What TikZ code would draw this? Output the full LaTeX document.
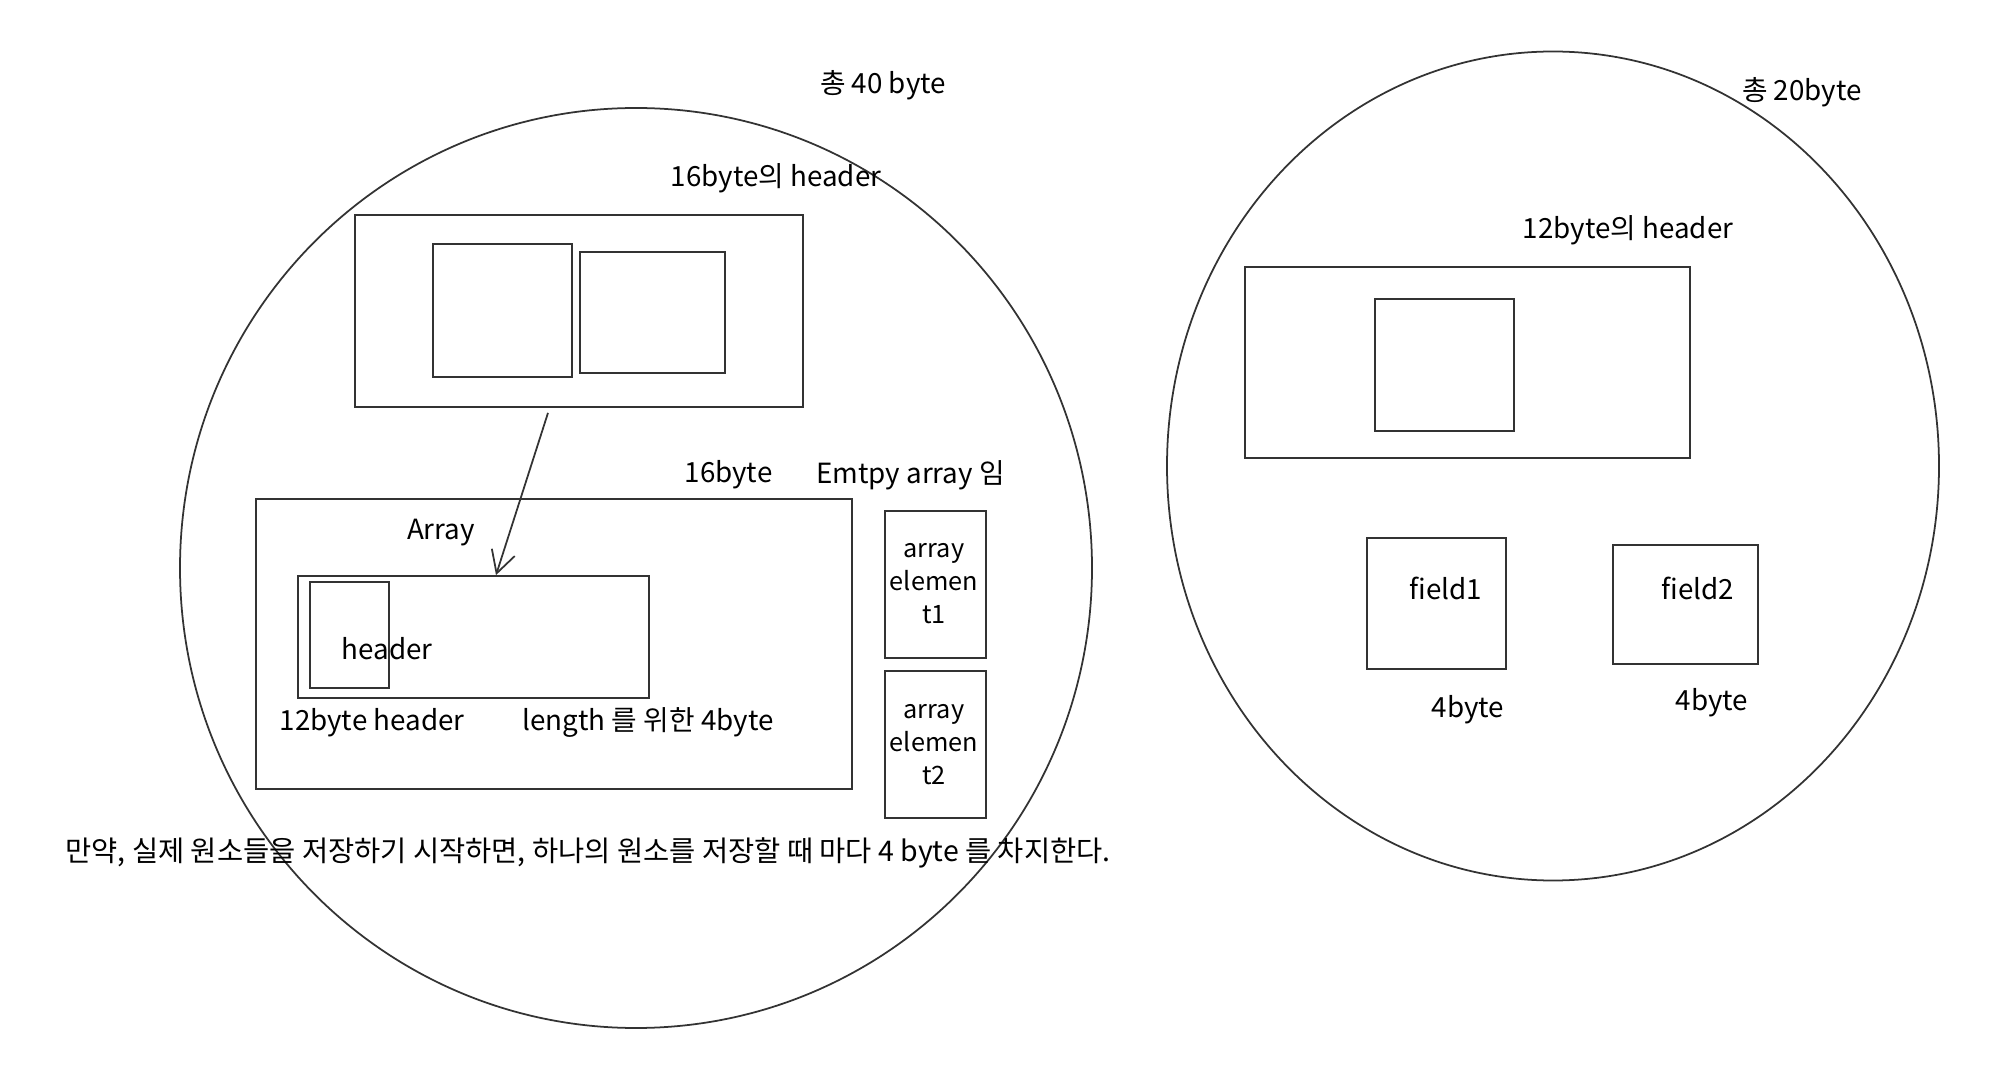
\documentclass[tikz,border=0pt]{standalone}
\usepackage{fontspec}
\setmainfont{Noto Sans CJK KR}
\usetikzlibrary{shapes.geometric, arrows.meta}
\tikzstyle{sketch} = [draw=black!80, line width=0.5pt]
\tikzstyle{object} = [ellipse, sketch, inner sep=0pt]
\tikzstyle{box} = [rectangle, sketch, inner sep=0pt]
\tikzstyle{label} = [inner sep=1pt, font=\fontsize{7.9}{9.4}\selectfont, align=center]
\tikzstyle{cell} = [label, font=\fontsize{7.2}{9.4}\selectfont]
\tikzstyle{note} = [inner sep=1pt, font=\fontsize{8.1}{9}\selectfont]
\tikzstyle{arrow} = [sketch, -{Straight Barb[length=2.2mm, width=2.4mm]}]

\begin{document}
\begin{tikzpicture}
    \useasboundingbox (0,0) rectangle (20,-10.86);

    % array object (left)
    \node (arrobj) [object, minimum width=9.12cm, minimum height=9.20cm] at (6.36,-5.68) {};
    \node (arrtotal) [label] at (8.83,-0.85) {총 40 byte};
    \node (arrhdrlbl) [label] at (7.76,-1.78) {16byte의 header};
    \node (arrhdr) [box, minimum width=4.48cm, minimum height=1.92cm] at (5.79,-3.11) {};
    \node (arrhdrA) [box, minimum width=1.39cm, minimum height=1.33cm] at (5.025,-3.105) {};
    \node (arrhdrB) [box, minimum width=1.45cm, minimum height=1.21cm] at (6.525,-3.125) {};

    \node (emptysize) [label] at (7.285,-4.75) {16byte};
    \node (emptylbl) [label] at (9.105,-4.75) {Emtpy array 임};
    \node (arrbody) [box, minimum width=5.96cm, minimum height=2.90cm] at (5.54,-6.44) {};
    \node (arrlbl) [label] at (4.41,-5.33) {Array};
    \node (arrinner) [box, minimum width=3.51cm, minimum height=1.22cm] at (4.735,-6.37) {};
    \node (arrsmall) [box, minimum width=0.79cm, minimum height=1.06cm] at (3.495,-6.35) {};
    \node (smalllbl) [label] at (3.87,-6.49) {header};
    \node (hdrsize) [label] at (3.72,-7.23) {12byte header};
    \node (lensize) [label] at (6.48,-7.23) {length 를 위한 4byte};

    \node (elem1) [box, minimum width=1.01cm, minimum height=1.47cm] at (9.355,-5.845) {};
    \node (elem1lbl) [cell] at (9.34,-5.84) {array\\elemen\\t1};
    \node (elem2) [box, minimum width=1.01cm, minimum height=1.47cm] at (9.355,-7.445) {};
    \node (elem2lbl) [cell] at (9.34,-7.45) {array\\elemen\\t2};

    \node (remark) [note] at (5.88,-8.53) {만약, 실제 원소들을 저장하기 시작하면, 하나의 원소를 저장할 때 마다 4 byte 를 차지한다.};

    \draw [arrow] ([xshift=-0.31cm, yshift=-0.05cm]arrhdr.south) -- ([xshift=0.225cm]arrinner.north);

    % plain object (right)
    \node (plainobj) [object, minimum width=7.72cm, minimum height=8.29cm] at (15.53,-4.66) {};
    \node (plaintotal) [label] at (18.02,-0.92) {총 20byte};
    \node (plainhdrlbl) [label] at (16.28,-2.30) {12byte의 header};
    \node (plainhdr) [box, minimum width=4.45cm, minimum height=1.91cm] at (14.675,-3.625) {};
    \node (plainhdrA) [box, minimum width=1.39cm, minimum height=1.32cm] at (14.445,-3.65) {};

    \node (field1) [box, minimum width=1.39cm, minimum height=1.31cm] at (14.365,-6.035) {};
    \node (field1lbl) [label] at (14.46,-5.88) {field1};
    \node (field1size) [label] at (14.68,-7.10) {4byte};
    \node (field2) [box, minimum width=1.45cm, minimum height=1.19cm] at (16.855,-6.045) {};
    \node (field2lbl) [label] at (16.98,-5.88) {field2};
    \node (field2size) [label] at (17.12,-7.03) {4byte};
\end{tikzpicture}
\end{document}
